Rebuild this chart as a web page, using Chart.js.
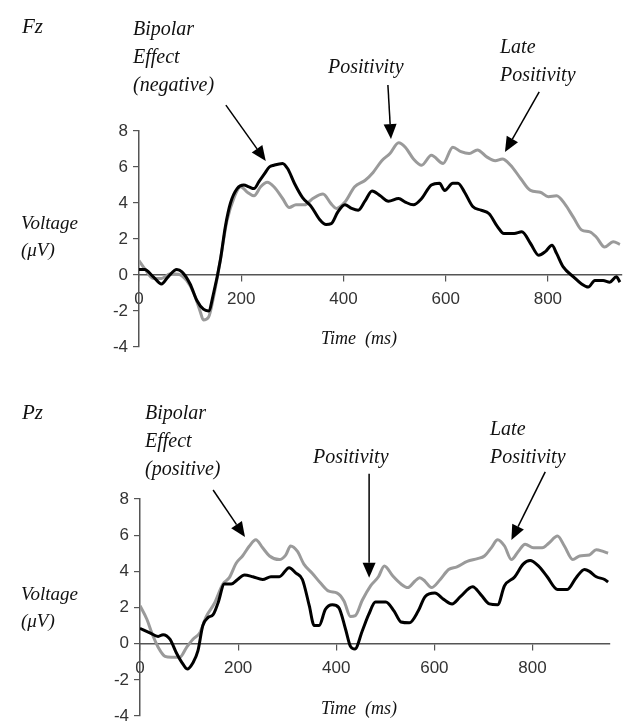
<!DOCTYPE html>
<html>
<head>
<meta charset="utf-8">
<script src="https://cdn.jsdelivr.net/npm/chart.js@4.4.0/dist/chart.umd.min.js"></script>
<style>
  body { margin: 0; background: #fff; width: 623px; height: 722px; position: relative; overflow: hidden; }
  canvas { position: absolute; left: 0; top: 0; }
  .lbl { position: absolute; font-family: "Liberation Serif", "DejaVu Serif", serif; font-style: italic; color: #111; font-size: 20px; line-height: 28px; white-space: pre; }
  .axis-title { font-size: 19px; line-height: 27px; }
  .time { font-size: 18px; line-height: 18px; }
</style>
</head>
<body>
<canvas id="fz" width="623" height="722"></canvas>
<canvas id="pz" width="623" height="760"></canvas>

<div class="lbl" style="left:22px;top:12px;font-size:21px">Fz</div>
<div class="lbl" style="left:133px;top:14px">Bipolar<br>Effect<br>(negative)</div>
<div class="lbl" style="left:328px;top:52px">Positivity</div>
<div class="lbl" style="left:500px;top:32px">Late<br>Positivity</div>
<div class="lbl axis-title" style="left:21px;top:209px">Voltage<br>(μV)</div>
<div class="lbl time" style="left:321px;top:329px">Time  (ms)</div>

<div class="lbl" style="left:22px;top:398px;font-size:21px">Pz</div>
<div class="lbl" style="left:145px;top:398px">Bipolar<br>Effect<br>(positive)</div>
<div class="lbl" style="left:313px;top:442px">Positivity</div>
<div class="lbl" style="left:490px;top:414px">Late<br>Positivity</div>
<div class="lbl axis-title" style="left:21px;top:580px">Voltage<br>(μV)</div>
<div class="lbl time" style="left:321px;top:699px">Time  (ms)</div>

<script>
// Fz electrode
const fzBlackMs = [0, 11, 28, 44, 57, 74, 84, 100, 113, 126, 136, 146, 159, 169, 179, 192, 205, 215, 225, 235, 245, 255, 264, 281, 291, 304, 320, 337, 353, 366, 376, 389, 403, 416, 429, 442, 456, 472, 488, 508, 521, 537, 553, 572, 588, 598, 614, 624, 637, 653, 669, 685, 701, 714, 734, 749, 766, 782, 795, 808, 817, 830, 850, 866, 879, 892, 908, 921, 934, 941];
const fzBlackUv = [0.3, 0.3, -0.1, -0.5, -0.1, 0.3, 0.17, -0.5, -1.4, -1.9, -2.0, -1.0, 0.8, 2.7, 4.0, 4.8, 5.0, 4.9, 4.8, 5.2, 5.6, 6.0, 6.1, 6.2, 5.9, 5.1, 4.3, 3.8, 3.1, 2.8, 2.85, 3.5, 3.9, 3.7, 3.6, 4.1, 4.67, 4.4, 4.1, 4.25, 4.05, 3.9, 4.25, 5.0, 5.1, 4.7, 5.1, 5.1, 4.6, 3.8, 3.6, 3.4, 2.7, 2.3, 2.3, 2.4, 1.75, 1.1, 1.3, 1.65, 1.2, 0.45, -0.1, -0.5, -0.67, -0.3, -0.3, -0.4, -0.1, -0.4];
const fzGrayMs = [0, 11, 28, 44, 61, 77, 93, 107, 120, 126, 136, 146, 159, 172, 186, 199, 212, 225, 238, 251, 264, 281, 294, 307, 324, 340, 360, 376, 386, 403, 422, 442, 458, 475, 491, 508, 521, 537, 553, 572, 595, 614, 630, 646, 662, 681, 697, 711, 727, 747, 766, 785, 801, 817, 833, 850, 866, 882, 895, 911, 928, 941];
const fzGrayUv = [0.8, 0.35, -0.2, -0.2, 0.07, 0.04, -0.3, -1.0, -2.05, -2.5, -2.35, -1.2, 0.8, 3.0, 4.3, 4.9, 4.6, 4.4, 4.9, 5.15, 4.9, 4.25, 3.75, 3.9, 3.9, 4.25, 4.5, 3.95, 3.7, 4.05, 4.9, 5.25, 5.7, 6.35, 6.75, 7.35, 7.1, 6.45, 6.1, 6.65, 6.2, 7.1, 6.85, 6.75, 6.95, 6.55, 6.35, 6.45, 6.1, 5.35, 4.7, 4.6, 4.35, 4.4, 3.95, 3.2, 2.5, 2.4, 2.1, 1.55, 1.85, 1.7];

// Pz electrode
const pzBlackMs = [0, 20, 37, 47, 61, 74, 88, 96, 108, 118, 128, 139, 149, 159, 172, 186, 199, 213, 230, 250, 267, 284, 304, 318, 331, 345, 355, 365, 378, 392, 405, 419, 429, 438, 453, 466, 480, 501, 518, 532, 549, 567, 581, 601, 619, 636, 653, 678, 695, 712, 729, 743, 764, 781, 795, 812, 830, 851, 871, 889, 906, 916, 930, 947, 954];
const pzBlackUv = [0.85, 0.6, 0.4, 0.5, 0.25, -0.5, -1.15, -1.4, -1.05, -0.4, 1.0, 1.45, 1.6, 2.25, 3.3, 3.3, 3.55, 3.8, 3.7, 3.55, 3.7, 3.7, 4.2, 3.9, 3.55, 2.1, 1.0, 1.0, 1.9, 2.15, 2.0, 0.8, -0.15, -0.3, 0.7, 1.6, 2.3, 2.3, 1.8, 1.2, 1.15, 1.8, 2.6, 2.8, 2.45, 2.2, 2.6, 3.15, 2.7, 2.2, 2.15, 3.2, 3.7, 4.4, 4.6, 4.3, 3.7, 3.0, 3.0, 3.65, 4.1, 4.0, 3.7, 3.55, 3.4];
const pzGrayMs = [0, 14, 24, 37, 51, 64, 81, 95, 108, 122, 135, 152, 169, 182, 196, 209, 223, 236, 250, 264, 284, 297, 307, 321, 334, 351, 368, 385, 402, 416, 429, 439, 453, 470, 486, 498, 515, 532, 546, 560, 570, 581, 594, 612, 629, 646, 667, 688, 702, 716, 729, 743, 757, 771, 785, 802, 820, 833, 851, 865, 882, 896, 916, 930, 944, 954];
const pzGrayUv = [2.1, 1.35, 0.6, -0.2, -0.7, -0.75, -0.75, -0.2, 0.25, 0.6, 1.5, 2.25, 3.3, 3.65, 4.45, 4.85, 5.4, 5.75, 5.3, 4.85, 4.65, 4.9, 5.4, 5.1, 4.4, 3.9, 3.35, 2.9, 2.8, 2.35, 1.5, 1.55, 2.4, 3.2, 3.7, 4.3, 3.75, 3.3, 3.1, 3.45, 3.65, 3.45, 3.1, 3.55, 4.1, 4.25, 4.55, 4.7, 4.85, 5.3, 5.75, 5.4, 4.65, 5.1, 5.5, 5.3, 5.3, 5.55, 5.95, 5.4, 4.65, 4.85, 4.9, 5.2, 5.1, 5.0];

const yTicks = [-4, -2, 0, 2, 4, 6, 8];
const xTicks = [0, 200, 400, 600, 800];

// arrow annotations, tail -> tip in (ms, µV)
const fzArrows = [
  { from: [170, 9.44], to: [248, 6.33] },
  { from: [487, 10.56], to: [493, 7.55] },
  { from: [783, 10.17], to: [716, 6.83] }
];
const pzArrows = [
  { from: [149, 8.5], to: [214, 5.9] },
  { from: [467, 9.4], to: [467, 3.65] },
  { from: [826, 9.5], to: [757, 5.73] }
];

const toPts = (ms, uv) => ms.map((t, i) => ({ x: t, y: uv[i] }));

const arrowPlugin = {
  id: 'arrows',
  afterDraw(chart, args, opts) {
    const { ctx } = chart;
    const sx = chart.scales.x, sy = chart.scales.y;
    ctx.save();
    ctx.strokeStyle = '#000';
    ctx.fillStyle = '#000';
    ctx.lineWidth = 1.5;
    opts.list.forEach(a => {
      const x1 = sx.getPixelForValue(a.from[0]), y1 = sy.getPixelForValue(a.from[1]);
      const x2 = sx.getPixelForValue(a.to[0]), y2 = sy.getPixelForValue(a.to[1]);
      const ang = Math.atan2(y2 - y1, x2 - x1);
      const len = 15, half = 6.5;
      const bx = x2 - len * Math.cos(ang), by = y2 - len * Math.sin(ang);
      ctx.beginPath();
      ctx.moveTo(x1, y1);
      ctx.lineTo(bx, by);
      ctx.stroke();
      ctx.beginPath();
      ctx.moveTo(x2, y2);
      ctx.lineTo(bx + half * Math.sin(ang), by - half * Math.cos(ang));
      ctx.lineTo(bx - half * Math.sin(ang), by + half * Math.cos(ang));
      ctx.closePath();
      ctx.fill();
    });
    ctx.restore();
  }
};

function makeChart(id, black, gray, arrows, xMax, pad) {
  const tickFont = { family: '"Liberation Sans", Arial, sans-serif', size: 17 };
  return new Chart(document.getElementById(id), {
    type: 'line',
    data: {
      datasets: [
        { data: black, borderColor: '#000', borderWidth: 3, pointRadius: 0, cubicInterpolationMode: 'monotone' },
        { data: gray, borderColor: '#9a9a9a', borderWidth: 3, pointRadius: 0, cubicInterpolationMode: 'monotone' }
      ]
    },
    options: {
      responsive: false,
      animation: false,
      events: [],
      layout: { padding: pad },
      plugins: { legend: { display: false }, tooltip: { enabled: false }, arrows: { list: arrows } },
      scales: {
        x: {
          type: 'linear',
          position: { y: 0 },
          min: 0,
          max: xMax,
          afterBuildTicks: s => { s.ticks = xTicks.map(v => ({ value: v })); },
          ticks: { font: tickFont, color: '#333', padding: 8, maxRotation: 0 },
          grid: { drawOnChartArea: false, tickLength: 6, color: '#555', lineWidth: 1.2 },
          border: { color: '#555', width: 1.5 }
        },
        y: {
          min: -4,
          max: 8,
          afterBuildTicks: s => { s.ticks = yTicks.map(v => ({ value: v })); },
          afterFit: s => { s.width = 139; },
          ticks: { font: tickFont, color: '#333', padding: 5 },
          grid: { drawOnChartArea: false, tickLength: 6, color: '#555', lineWidth: 1.2 },
          border: { color: '#555', width: 1.5 }
        }
      }
    },
    plugins: [arrowPlugin]
  });
}

makeChart('fz', toPts(fzBlackMs, fzBlackUv), toPts(fzGrayMs, fzGrayUv), fzArrows, 945,
  { top: 131, bottom: 722 - 347, left: 0, right: 1 });
makeChart('pz', toPts(pzBlackMs, pzBlackUv), toPts(pzGrayMs, pzGrayUv), pzArrows, 958,
  { top: 499, bottom: 760 - 716, left: 1, right: 13 });
</script>
</body>
</html>
